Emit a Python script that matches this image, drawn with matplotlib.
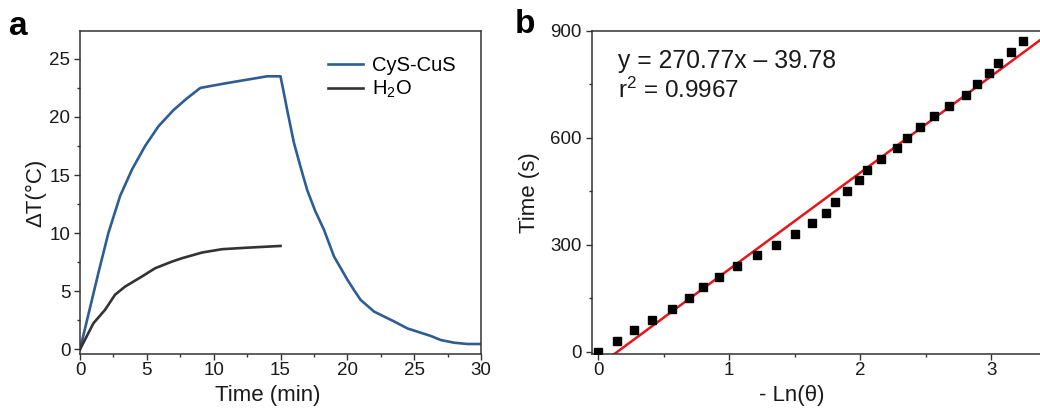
import matplotlib
matplotlib.use("Agg")
import matplotlib.pyplot as plt
from matplotlib.ticker import MultipleLocator

plt.rcParams["font.family"] = ["Liberation Sans", "DejaVu Sans"]
plt.rcParams["mathtext.fontset"] = "custom"
plt.rcParams["mathtext.rm"] = "Liberation Sans"
plt.rcParams["mathtext.it"] = "Liberation Sans:italic"

# panel a: photothermal heating / cooling curves
time_cus = [0, 1.37, 2.12, 3.0, 3.9, 4.87, 5.87, 7.0, 8.0, 9.0, 10.9, 14.0, 15.0,
            15.25, 15.5, 16.0, 16.5, 17.0, 17.6, 18.25, 19.0, 19.5, 20.0, 20.5,
            21.0, 22.0, 23.5, 24.5, 26.25, 27.0, 28.0, 29.0, 30.0]
dT_cus = [0, 6.55, 10.0, 13.2, 15.5, 17.5, 19.2, 20.6, 21.6, 22.5, 22.9, 23.5, 23.5,
          22.07, 20.6, 17.8, 15.7, 13.7, 11.9, 10.3, 8.0, 7.0, 6.0, 5.1,
          4.25, 3.25, 2.4, 1.8, 1.15, 0.8, 0.57, 0.46, 0.46]
time_h2o = [0, 1.0, 1.87, 2.62, 3.37, 4.62, 5.62, 6.87, 7.62, 9.12, 10.62, 12.5, 15.0]
dT_h2o = [0, 2.24, 3.4, 4.7, 5.4, 6.26, 6.98, 7.55, 7.84, 8.33, 8.62, 8.75, 8.9]

# panel b: cooling time vs -ln(theta)
neg_ln_theta = [0, 0.14, 0.275, 0.407, 0.56, 0.69, 0.80, 0.925, 1.06, 1.21, 1.36,
                1.50, 1.63, 1.74, 1.81, 1.90, 1.99, 2.05, 2.16, 2.28, 2.36, 2.46,
                2.56, 2.68, 2.81, 2.89, 2.98, 3.05, 3.15, 3.24]
time_s = [0, 30, 60, 90, 120, 150, 180, 210, 240, 270, 300, 330, 360, 390, 420,
          450, 480, 510, 540, 570, 600, 630, 660, 690, 720, 750, 780, 810, 840, 870]
fit_slope = 270.77
fit_intercept = -39.78
fit_x = [0.1, 3.6]

blue = "#2d5d93"
dark = "#333333"
red = "#e8161b"
spine_col = "#333333"
txt = "#1a1a1a"

W, H = 1040, 408
fig = plt.figure(figsize=(W / 100, H / 100), dpi=100)


def style(ax):
	for s in ax.spines.values():
		s.set_color(spine_col)
		s.set_linewidth(1.1)
	ax.tick_params(which="major", direction="out", length=4, width=1.0, color=spine_col, labelsize=13.5, labelcolor=txt)
	ax.tick_params(which="minor", direction="out", length=2.3, width=1.0, color=spine_col)
	ax.tick_params(axis="x", which="major", pad=1.5)
	ax.tick_params(axis="y", which="major", pad=3)


ax1 = fig.add_axes([80 / W, 1 - 354 / H, 401 / W, 323 / H])
ax1.plot(time_cus, dT_cus, color=blue, lw=1.9, label="CyS-CuS")
ax1.plot(time_h2o, dT_h2o, color=dark, lw=1.9, label="H$_2$O")
ax1.set_xlim(0, 30)
ax1.set_ylim(-0.4, 27.4)
ax1.xaxis.set_major_locator(MultipleLocator(5))
ax1.xaxis.set_minor_locator(MultipleLocator(2.5))
ax1.yaxis.set_major_locator(MultipleLocator(5))
ax1.yaxis.set_minor_locator(MultipleLocator(2.5))
style(ax1)
ax1.set_xlabel("Time (min)", fontsize=16, color=txt)
ax1.xaxis.set_label_coords((267.5 - 80) / 401, -(396 - 354) / 323)
ax1.xaxis.label.set_va("center")
ax1.set_ylabel("ΔT(°C)", fontsize=16, color=txt)
ax1.yaxis.set_label_coords(-(80 - 36) / 401, 0.5)
ax1.yaxis.label.set_va("center")
ax1.legend(loc="upper left", bbox_to_anchor=(328 / W, 1 - 56 / H), bbox_transform=fig.transFigure,
           frameon=False, fontsize=14.5, borderpad=0, borderaxespad=0,
           handlelength=1.75, handletextpad=0.45, labelspacing=0.2)

ax2 = fig.add_axes([591.7 / W, 1 - 354.3 / H, 465 / W, 323.6 / H])
ax2.plot(neg_ln_theta, time_s, "s", color="black", ms=5.5, zorder=3)
ax2.plot(fit_x, [fit_slope * x + fit_intercept for x in fit_x], color=red, lw=1.8, zorder=2)
ax2.set_xlim(-0.05, 3.5)
ax2.set_ylim(-7.4, 900)
ax2.xaxis.set_major_locator(MultipleLocator(1))
ax2.xaxis.set_minor_locator(MultipleLocator(0.5))
ax2.yaxis.set_major_locator(MultipleLocator(300))
ax2.yaxis.set_minor_locator(MultipleLocator(150))
style(ax2)
ax2.set_xlabel("- Ln(θ)", fontsize=16, color=txt)
ax2.xaxis.set_label_coords((791.5 - 591.7) / 465, -(396 - 354.3) / 323.6)
ax2.xaxis.label.set_va("center")
ax2.set_ylabel("Time (s)", fontsize=16, color=txt)
ax2.yaxis.set_label_coords(-(591.7 - 530) / 465, 0.5)
ax2.yaxis.label.set_va("center")

fig.text(618 / W, 1 - 68 / H, "y = 270.77x – 39.78", fontsize=17.8, va="baseline", ha="left", color=txt)
fig.text(618 / W, 1 - 98 / H, "r$^2$ = 0.9967", fontsize=17.5, va="baseline", ha="left", color=txt)

fig.text(9 / W, 1 - 35 / H, "a", fontsize=24, fontweight="bold", va="baseline", ha="left")
fig.text(515 / W, 1 - 33 / H, "b", fontsize=24, fontweight="bold", va="baseline", ha="left")

fig.savefig("out.png", dpi=100)
